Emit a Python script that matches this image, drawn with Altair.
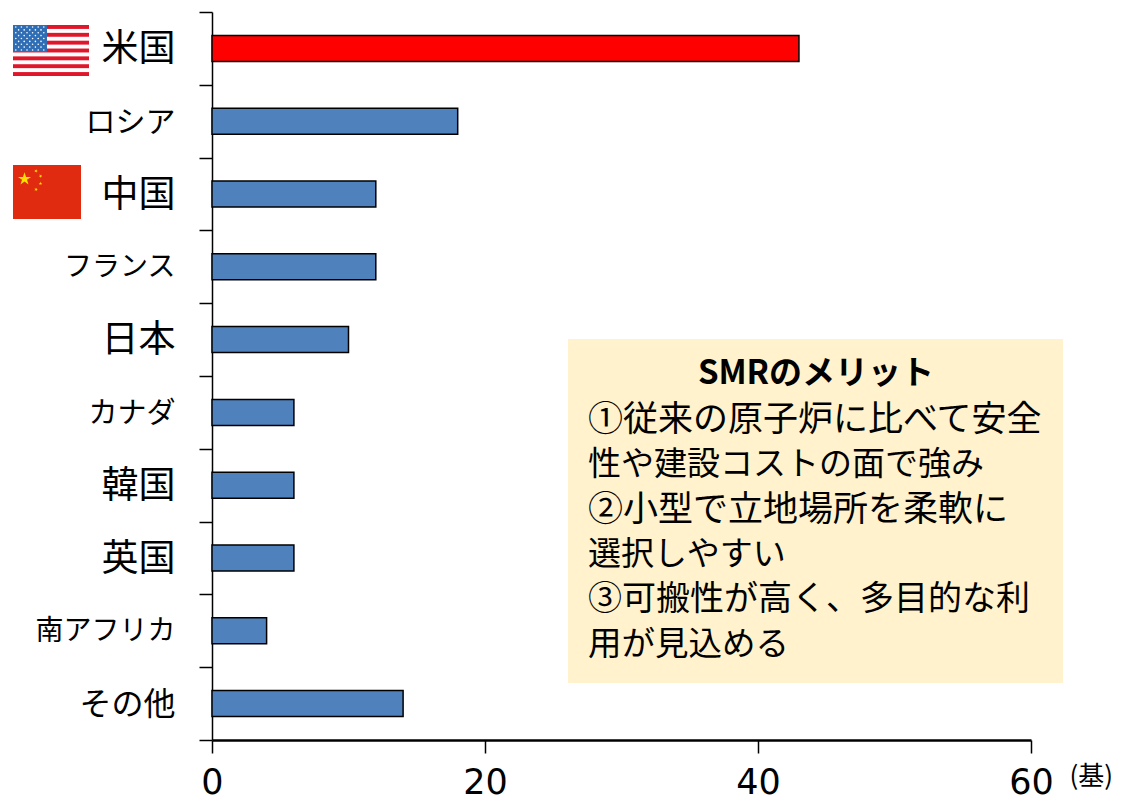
import altair as alt
from urllib.parse import quote
import math

countries = ["米国", "ロシア", "中国", "フランス", "日本", "カナダ", "韓国", "英国", "南アフリカ", "その他"]
reactors = [43, 18, 12, 12, 10, 6, 6, 6, 4, 14]
highlight = ["米国"]
box_title = "SMRのメリット"
box_lines = ["①従来の原子炉に比べて安全", "性や建設コストの面で強み", "②小型で立地場所を柔軟に",
             "選択しやすい", "③可搬性が高く、多目的な利", "用が見込める"]
box_line_sizes = [35, 33, 35, 33, 34, 33.5]
unit = "(基)"
JP = "Noto Sans CJK JP"

rows = [{"country": c, "n": n, "hl": c in highlight} for c, n in zip(countries, reactors)]


def star(cx, cy, r, rot=0):
    pts = []
    for k in range(10):
        rr = r if k % 2 == 0 else r * 0.382
        a = math.radians(-90 + rot + 36 * k)
        pts.append(f"{cx + rr * math.cos(a):.2f},{cy + rr * math.sin(a):.2f}")
    return f'<polygon points="{" ".join(pts)}" fill="#FFDE00"/>'


def us_flag():
    w, h = 76, 51
    s = f'<svg xmlns="http://www.w3.org/2000/svg" width="{w}" height="{h}" viewBox="0 0 {w} {h}"><rect width="{w}" height="{h}" fill="#fff"/>'
    sh = h / 13
    for i in range(0, 13, 2):
        s += f'<rect y="{i * sh:.2f}" width="{w}" height="{sh:.2f}" fill="#E0162B"/>'
    s += '<rect width="34" height="27" fill="#2F6DB5"/>'
    for r in range(9):
        cols = 6 if r % 2 == 0 else 5
        off = 2.8 if r % 2 == 0 else 5.6
        for c in range(cols):
            s += f'<circle cx="{off + c * 5.6:.1f}" cy="{2 + r * 2.87:.1f}" r="0.8" fill="#fff"/>'
    return "data:image/svg+xml," + quote(s + "</svg>")


def cn_flag():
    w, h = 68, 54
    s = f'<svg xmlns="http://www.w3.org/2000/svg" width="{w}" height="{h}" viewBox="0 0 {w} {h}"><rect width="{w}" height="{h}" fill="#E02B10"/>'
    s += star(11.5, 14, 6.8)
    s += star(23, 6, 1.9, 20) + star(27.5, 11, 1.9, 45) + star(27.5, 18.5, 1.9, 0) + star(23, 24.5, 1.9, 20)
    return "data:image/svg+xml," + quote(s + "</svg>")


label_sizes = {"ロシア": 30, "フランス": 28, "カナダ": 29, "南アフリカ": 28, "その他": 32}
size_expr = {"condition": [{"test": f"datum.value === '{k}'", "value": v} for k, v in label_sizes.items()], "value": 37}

base = alt.Chart(alt.Data(values=rows))
one = alt.Data(values=[{"k": 1}])

bars = base.mark_bar(stroke="black", strokeWidth=1.5, height=26).encode(
    y=alt.Y("country:N", sort=countries, title=None, scale=alt.Scale(domain=countries, paddingInner=0, paddingOuter=0),
            axis=alt.Axis(tickBand="extent", tickSize=13, tickWidth=1.5, tickColor="black", domainColor="black",
                          domainWidth=1.5, labelFontSize=size_expr, labelFont=JP, labelColor="black", labelPadding=24,
                          labelOffset=1, labelLimit=300, grid=False)),
    x=alt.X("n:Q", title=None, scale=alt.Scale(domain=[0, 60], nice=False),
            axis=alt.Axis(values=[0, 20, 40, 60], tickSize=13, tickWidth=1.5, tickColor="black", domainColor="black",
                          domainWidth=2.5, labelFontSize=35, labelFont="DejaVu Sans", labelColor="black",
                          labelPadding=12, labelBaseline="top", grid=False, labelOverlap=False, labelFlush=False)),
    color=alt.Color("hl:N", legend=None, scale=alt.Scale(domain=[True, False], range=["#FF0000", "#4F81BD"])),
)

box = alt.Chart(one).mark_rect(color="#FFF2CC").encode(
    x=alt.value(356), x2=alt.value(851), y=alt.value(327), y2=alt.value(671))

title = alt.Chart(one).mark_text(text=box_title, font=JP, fontWeight="bold", fontSize=33, align="center",
                                 baseline="middle", color="black").encode(x=alt.value(604), y=alt.value(362))

line_layers = [
    alt.Chart(one).mark_text(text=t, font=JP, fontSize=s, align="left", baseline="middle", color="black").encode(
        x=alt.value(376), y=alt.value(408 + i * 45))
    for i, (t, s) in enumerate(zip(box_lines, box_line_sizes))
]

unit_txt = alt.Chart(one).mark_text(text=unit, font=JP, fontSize=26, align="right", baseline="middle",
                                    color="black", clip=False).encode(x=alt.value(901), y=alt.value(765))

flag_us = alt.Chart(one).mark_image(url=us_flag(), width=76, height=51, align="left", baseline="top").encode(
    x=alt.value(-199), y=alt.value(13))
flag_cn = alt.Chart(one).mark_image(url=cn_flag(), width=68, height=54, align="left", baseline="top").encode(
    x=alt.value(-199), y=alt.value(153))

chart = alt.layer(bars, box, title, *line_layers, unit_txt, flag_us, flag_cn).properties(
    width=819, height=728,
    autosize=alt.AutoSizeParams(type="none"),
    padding={"left": 204, "top": 4, "right": 83, "bottom": 60},
    background="white",
).configure_view(stroke=None)

chart.save("out.html", embed_options={"renderer": "svg", "actions": False})
